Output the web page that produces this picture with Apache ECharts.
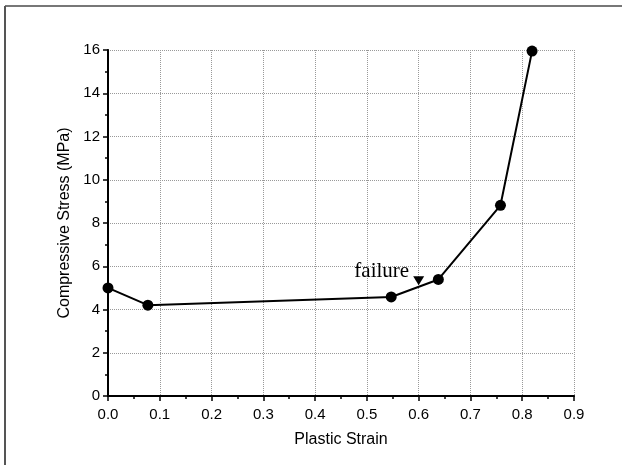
<!DOCTYPE html>
<html><head><meta charset="utf-8">
<script src="https://cdn.jsdelivr.net/npm/echarts@6/dist/echarts.min.js"></script>
<style>html,body{margin:0;padding:0;background:#fff}#c{width:622px;height:465px}</style>
</head><body><div id="c"></div>
<script>
const strain = [0, 0.077, 0.547, 0.638, 0.758, 0.819];
const stress = [5.0, 4.2, 4.58, 5.39, 8.82, 15.95];
const failureX = [0.6];
const failureY = [5.33];
const failureText = 'failure';
const xTicks = [0,0.1,0.2,0.3,0.4,0.5,0.6,0.7,0.8,0.9];
const yTicks = [0,2,4,6,8,10,12,14,16];

const chart = echarts.init(document.getElementById('c'));
const axisFont = {fontFamily:'Liberation Sans, Arial', fontSize:15, color:'#000'};
chart.setOption({
  animation:false,
  grid:{left:108,right:48,top:50,bottom:69,show:false},
  graphic:[
    {type:'line',shape:{x1:5,y1:6,x2:622,y2:6},style:{stroke:'#777',lineWidth:2}},
    {type:'line',shape:{x1:5,y1:6,x2:5,y2:465},style:{stroke:'#555',lineWidth:2}}
  ],
  xAxis:[{
    type:'value',min:0,max:0.9,interval:0.1,
    name:'Plastic Strain',nameLocation:'middle',nameGap:36,
    nameTextStyle:{fontFamily:'Liberation Sans, Arial',fontSize:16,color:'#000'},
    axisLine:{onZero:false,lineStyle:{color:'#000',width:2}},
    axisTick:{inside:false,length:5,lineStyle:{color:'#000',width:1.5}},
    minorTick:{show:true,splitNumber:2,length:3,lineStyle:{color:'#000',width:1.5}},
    axisLabel:Object.assign({margin:11,formatter:v=>v.toFixed(1)},axisFont),
    splitLine:{show:true,lineStyle:{color:'#999',type:'dotted',width:1}}
  },{
    type:'value',min:0,max:0.9,position:'top',
    axisLine:{show:true,lineStyle:{color:'#000',width:1.5}},
    axisTick:{show:false},axisLabel:{show:false},splitLine:{show:false}
  }],
  yAxis:[{
    type:'value',min:0,max:16,interval:2,
    name:'Compressive Stress (MPa)',nameLocation:'middle',nameGap:26,
    nameTextStyle:{fontFamily:'Liberation Sans, Arial',fontSize:16,color:'#000'},
    axisLine:{onZero:false,lineStyle:{color:'#000',width:2}},
    axisTick:{inside:false,length:5,lineStyle:{color:'#000',width:1.5}},
    minorTick:{show:true,splitNumber:2,length:3,lineStyle:{color:'#000',width:1.5}},
    axisLabel:Object.assign({margin:8},axisFont),
    splitLine:{show:true,lineStyle:{color:'#999',type:'dotted',width:1}}
  },{
    type:'value',min:0,max:16,position:'right',
    axisLine:{show:true,lineStyle:{color:'#000',width:1.5}},
    axisTick:{show:false},axisLabel:{show:false},splitLine:{show:false}
  }],
  series:[{
    type:'line',
    data:strain.map((x,i)=>[x,stress[i]]),
    symbol:'circle',symbolSize:11,
    lineStyle:{color:'#000',width:2},
    itemStyle:{color:'#000'},
    clip:false
  },{
    type:'scatter',
    data:failureX.map((x,i)=>[x,failureY[i]]),
    symbol:'triangle',symbolRotate:180,symbolSize:[11,9],
    itemStyle:{color:'#000',opacity:1},
    label:{show:true,formatter:failureText,position:'left',distance:4,offset:[0,-9],
      fontFamily:'Liberation Serif, Times New Roman',fontSize:21,color:'#000'}
  }]
});
</script></body></html>
